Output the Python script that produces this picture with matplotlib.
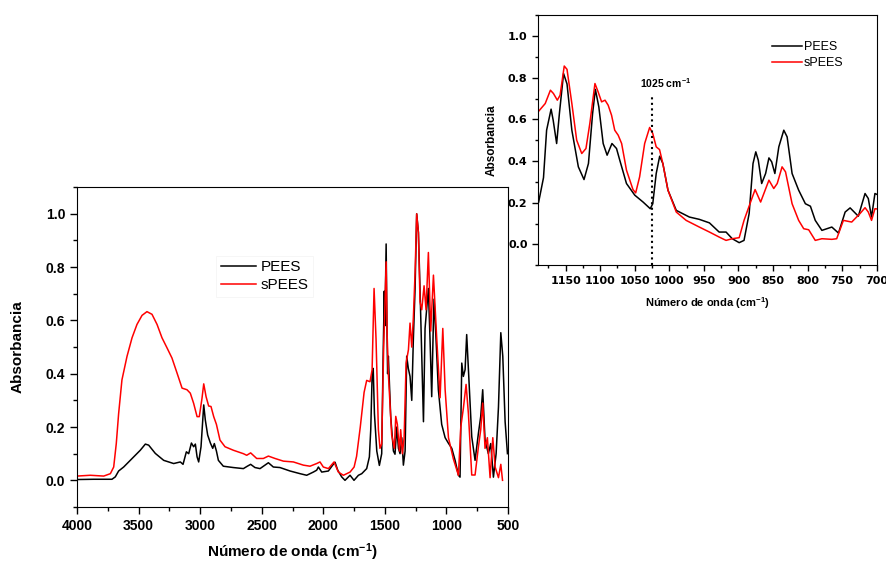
import numpy as np
import matplotlib
matplotlib.use("Agg")
import matplotlib.pyplot as plt
from matplotlib.ticker import MultipleLocator

plt.rcParams['font.family'] = ['Liberation Sans', 'DejaVu Sans']
plt.rcParams['mathtext.fontset'] = 'custom'
plt.rcParams['mathtext.rm'] = 'Liberation Sans'
plt.rcParams['mathtext.bf'] = 'Liberation Sans:bold'
plt.rcParams['mathtext.default'] = 'bf'

# ---- espectro completo (4000-500 cm-1) ----
pees_wn = [4000, 3865, 3716, 3689, 3662, 3621, 3580, 3540, 3486, 3445, 3418, 3364,
           3296, 3215, 3161, 3139, 3112, 3093, 3071, 3053, 3039, 3025, 3012, 2993,
           2971, 2958, 2939, 2917, 2898, 2885, 2868, 2852, 2812, 2731, 2649, 2617,
           2590, 2555, 2514, 2473, 2446, 2406, 2352, 2270, 2189, 2135, 2081, 2054,
           2040, 2013, 1959, 1924, 1905, 1883, 1851, 1824, 1783, 1751, 1715, 1688,
           1648, 1626, 1615, 1604, 1595, 1585, 1566, 1545, 1526, 1515, 1505, 1500,
           1490, 1484, 1478, 1472, 1453, 1431, 1418, 1404, 1390, 1377, 1363, 1350,
           1336, 1323, 1310, 1296, 1282, 1269, 1255, 1242, 1228, 1215, 1201, 1187,
           1174, 1160, 1147, 1133, 1120, 1106, 1101, 1085, 1066, 1039, 1011, 984,
           957, 930, 903, 890, 876, 863, 849, 836, 814, 795, 768, 741, 722, 706,
           687, 660, 641, 619, 597, 578, 559, 543, 524, 505]
pees_abs = [0.003, 0.004, 0.004, 0.013, 0.035, 0.05, 0.069, 0.088, 0.113, 0.136, 0.132, 0.101,
            0.075, 0.063, 0.069, 0.06, 0.107, 0.10, 0.14, 0.126, 0.136, 0.088, 0.069, 0.126,
            0.283, 0.226, 0.17, 0.14, 0.12, 0.138, 0.11, 0.075, 0.053, 0.048, 0.044, 0.053,
            0.06, 0.048, 0.044, 0.057, 0.066, 0.05, 0.048, 0.035, 0.025, 0.019, 0.031, 0.038,
            0.05, 0.031, 0.035, 0.057, 0.068, 0.038, 0.013, 0.0, 0.019, 0.0, 0.019, 0.025,
            0.044, 0.088, 0.19, 0.39, 0.42, 0.25, 0.11, 0.056, 0.10, 0.45, 0.71, 0.58,
            0.887, 0.6, 0.4, 0.466, 0.24, 0.11, 0.098, 0.20, 0.12, 0.10, 0.16, 0.057,
            0.11, 0.466, 0.42, 0.39, 0.30, 0.53, 0.72, 1.0, 0.93, 0.72, 0.466, 0.22,
            0.57, 0.65, 0.72, 0.52, 0.314, 0.60, 0.68, 0.53, 0.34, 0.21, 0.16, 0.139,
            0.12, 0.075, 0.019, 0.012, 0.44, 0.39, 0.415, 0.547, 0.34, 0.164, 0.075, 0.176,
            0.24, 0.34, 0.151, 0.10, 0.138, 0.012, 0.10, 0.275, 0.554, 0.466, 0.22, 0.10]

spees_wn = [4000, 3892, 3783, 3729, 3702, 3681, 3662, 3635, 3594, 3553, 3513, 3472,
            3432, 3391, 3350, 3310, 3269, 3229, 3188, 3147, 3107, 3080, 3053, 3025,
            3007, 2985, 2971, 2952, 2931, 2912, 2890, 2868, 2839, 2798, 2731, 2649,
            2622, 2590, 2541, 2487, 2446, 2392, 2324, 2243, 2162, 2108, 2054, 2027,
            2000, 1959, 1913, 1878, 1837, 1783, 1750, 1730, 1700, 1669, 1648, 1621,
            1604, 1588, 1572, 1553, 1540, 1526, 1510, 1500, 1490, 1482, 1472, 1445,
            1423, 1412, 1399, 1382, 1372, 1358, 1344, 1328, 1309, 1296, 1282, 1269,
            1255, 1242, 1228, 1215, 1201, 1182, 1166, 1147, 1128, 1106, 1079, 1052,
            1030, 1011, 984, 944, 903, 884, 863, 841, 822, 795, 768, 741, 722, 706,
            687, 668, 646, 624, 605, 578, 559, 545]
spees_abs = [0.016, 0.019, 0.016, 0.025, 0.05, 0.138, 0.25, 0.377, 0.465, 0.535, 0.585, 0.619,
             0.633, 0.623, 0.585, 0.535, 0.497, 0.459, 0.403, 0.346, 0.34, 0.327, 0.289, 0.239,
             0.239, 0.308, 0.362, 0.314, 0.279, 0.277, 0.239, 0.21, 0.151, 0.126, 0.113, 0.10,
             0.094, 0.103, 0.082, 0.082, 0.091, 0.082, 0.072, 0.069, 0.057, 0.053, 0.063, 0.069,
             0.05, 0.044, 0.069, 0.031, 0.019, 0.031, 0.05, 0.09, 0.20, 0.33, 0.375, 0.37,
             0.415, 0.72, 0.53, 0.19, 0.12, 0.137, 0.50, 0.65, 0.82, 0.55, 0.40, 0.17,
             0.12, 0.24, 0.21, 0.11, 0.19, 0.10, 0.16, 0.44, 0.49, 0.59, 0.50, 0.61,
             0.78, 1.0, 0.93, 0.67, 0.64, 0.73, 0.64, 0.855, 0.56, 0.77, 0.53, 0.31,
             0.57, 0.34, 0.16, 0.08, 0.019, 0.20, 0.27, 0.36, 0.25, 0.02, 0.02, 0.125, 0.19, 0.29,
             0.12, 0.16, 0.01, 0.16, 0.05, 0.01, 0.06, 0.0]

# ---- detalle 1190-700 cm-1 ----
pees_zoom_wn = [1189, 1182, 1177.5, 1171, 1168, 1163, 1159, 1153, 1148, 1141, 1131.6, 1123.4,
                1117, 1111, 1107, 1102, 1095.7, 1090, 1083, 1076.4, 1071.7, 1062, 1050, 1038,
                1027.6, 1024, 1019, 1014, 1009.4, 1002, 990, 971, 956.7, 942, 928, 918, 909,
                899, 892, 884.6, 879, 875, 871.4, 866.5, 860.8, 856, 852, 847.4, 841.7, 834.5,
                829.7, 822.5, 813, 803.3, 796, 789, 779.4, 765, 755.4, 745.8, 738.6, 726.7,
                717, 712.3, 707.6, 702.7, 700]
pees_zoom_abs = [0.203, 0.32, 0.548, 0.649, 0.596, 0.484, 0.628, 0.82, 0.77, 0.548, 0.372, 0.311,
                 0.388, 0.628, 0.744, 0.66, 0.484, 0.428, 0.484, 0.46, 0.404, 0.292, 0.236, 0.203,
                 0.171, 0.195, 0.34, 0.423, 0.388, 0.26, 0.163, 0.131, 0.12, 0.103, 0.059, 0.059, 0.027,
                 0.008, 0.019, 0.148, 0.388, 0.444, 0.404, 0.292, 0.34, 0.415, 0.396, 0.34, 0.468, 0.548,
                 0.516, 0.34, 0.26, 0.195, 0.183, 0.115, 0.067, 0.083, 0.054, 0.155, 0.175, 0.135,
                 0.244, 0.22, 0.131, 0.244, 0.24]

spees_zoom_wn = [1189, 1179.5, 1172, 1167.6, 1162, 1158, 1152, 1148, 1141, 1134, 1126.7, 1120.6,
                 1115, 1107.6, 1103, 1098, 1093, 1088.5, 1083.6, 1079, 1074, 1069, 1062, 1052.6,
                 1048.7, 1043, 1035.7, 1028.5, 1024, 1019, 1014.2, 1009.4, 1002, 990, 975.7, 956.7,
                 942, 928, 918, 909, 899, 892, 885, 876, 868, 856, 849, 844, 837, 832, 822.5, 813,
                 805.7, 798.5, 789, 779.4, 765, 758, 748.3, 736.3, 724.2, 717, 712.3, 707.6, 702.7, 700]
spees_zoom_abs = [0.639, 0.676, 0.74, 0.724, 0.692, 0.716, 0.856, 0.84, 0.676, 0.5, 0.436, 0.46,
                  0.58, 0.772, 0.732, 0.684, 0.692, 0.668, 0.62, 0.548, 0.524, 0.484, 0.356, 0.263,
                  0.247, 0.324, 0.484, 0.561, 0.532, 0.468, 0.455, 0.388, 0.26, 0.155, 0.115, 0.083,
                  0.059, 0.035, 0.019, 0.027, 0.032, 0.115, 0.18, 0.263, 0.203, 0.308, 0.268, 0.292,
                  0.372, 0.348, 0.195, 0.115, 0.075, 0.07, 0.019, 0.027, 0.024, 0.027, 0.115, 0.107,
                  0.148, 0.176, 0.155, 0.115, 0.171, 0.17]

marca_wn = 1025
series_names = ['PEES', 'sPEES']
series_colors = ['black', 'red']

fig = plt.figure(figsize=(8.87, 5.63), dpi=100)

# painel principal
ax = fig.add_axes([0.0868, 0.0995, 0.486, 0.568])
ax.plot(pees_wn, pees_abs, color=series_colors[0], lw=1.1, label=series_names[0])
ax.plot(spees_wn, spees_abs, color=series_colors[1], lw=1.1, label=series_names[1])
ax.set_xlim(4000, 500)
ax.set_ylim(-0.1, 1.1)
ax.xaxis.set_major_locator(MultipleLocator(500))
ax.xaxis.set_minor_locator(MultipleLocator(250))
ax.yaxis.set_major_locator(MultipleLocator(0.2))
ax.yaxis.set_minor_locator(MultipleLocator(0.1))
ax.tick_params(which='major', direction='out', length=5, width=1, labelsize=10)
ax.tick_params(which='minor', direction='out', length=3, width=1)
for lab in ax.get_xticklabels() + ax.get_yticklabels():
    lab.set_fontweight('bold')
ax.set_xlabel('Número de onda (cm$^{-1}$)', fontsize=11, fontweight='bold', labelpad=6)
ax.set_ylabel('Absorbancia', fontsize=11, fontweight='bold', labelpad=15)
leg = ax.legend(loc='upper left', bbox_to_anchor=(0.305, 0.81), fontsize=11,
                frameon=True, fancybox=False, handlelength=2.3, handletextpad=0.3,
                labelspacing=0.28, borderpad=0.3)
leg.get_frame().set_edgecolor('#f3f3f3')
leg.get_frame().set_linewidth(0.6)

# painel de detalhe
ins = fig.add_axes([0.6065, 0.529, 0.382, 0.444])
ins.plot(pees_zoom_wn, pees_zoom_abs, color=series_colors[0], lw=1.1, label=series_names[0])
ins.plot(spees_zoom_wn, spees_zoom_abs, color=series_colors[1], lw=1.1, label=series_names[1])
ins.set_xlim(1190, 700)
ins.set_ylim(-0.1, 1.1)
ins.xaxis.set_major_locator(MultipleLocator(50))
ins.xaxis.set_minor_locator(MultipleLocator(25))
ins.yaxis.set_major_locator(MultipleLocator(0.2))
ins.yaxis.set_minor_locator(MultipleLocator(0.1))
ins.tick_params(which='major', direction='out', length=4, width=1, labelsize=8)
ins.tick_params(which='minor', direction='out', length=2.5, width=1)
for lab in ins.get_xticklabels() + ins.get_yticklabels():
    lab.set_fontweight('bold')
    lab.set_family('DejaVu Sans')
ins.set_xlabel('Número de onda (cm$^{-1}$)', fontsize=8, fontweight='bold', labelpad=7)
ins.set_ylabel('Absorbancia', fontsize=8.5, fontweight='bold', labelpad=7)
ins.axvline(marca_wn, ymin=0, ymax=(0.72 + 0.1) / 1.2, color='black', ls=':', lw=1.5)
ins.text(marca_wn + 17, 0.74, '1025 cm$^{-1}$', fontsize=7.5, fontweight='bold',
         ha='left', va='bottom')
ins.legend(loc='upper left', bbox_to_anchor=(0.665, 0.93), fontsize=9, frameon=False,
           handlelength=2.4, handletextpad=0.15, labelspacing=0.3, borderpad=0.2)

fig.savefig('out.png', dpi=100)
